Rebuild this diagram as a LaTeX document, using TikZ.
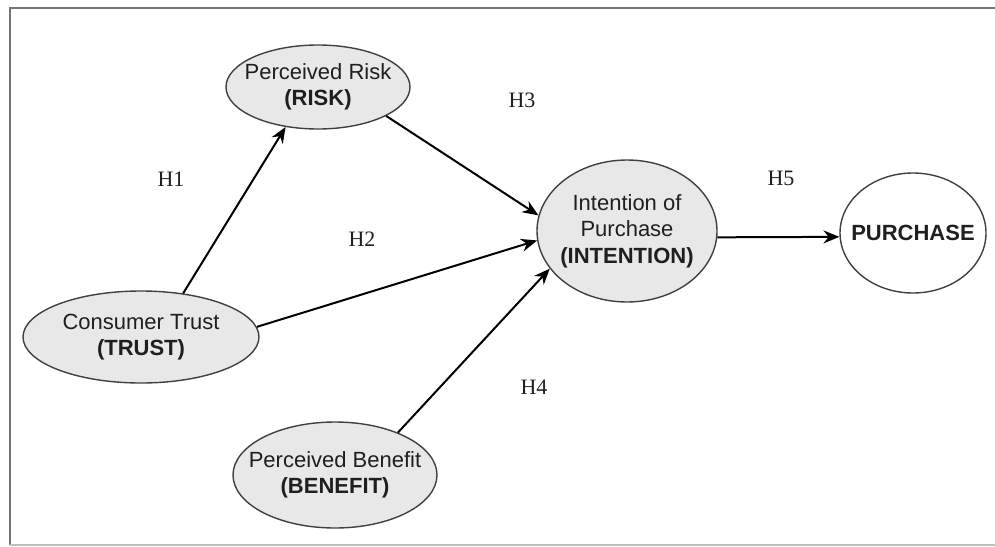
\documentclass[tikz,border=0pt]{standalone}
\usepackage{fontspec}
\setmainfont{Liberation Serif}
\setsansfont{Liberation Sans}
\usetikzlibrary{arrows.meta,shapes.geometric}

\begin{document}
\begin{tikzpicture}[x=1pt,y=-1pt,->,>={Stealth[length=16pt,width=13pt]},line width=2pt,
  construct/.style={ellipse,draw=black!75,line width=1.4pt,fill=black!9,inner sep=-40pt,
    align=center,font=\sffamily\fontsize{22}{26.5}\selectfont,text=black!88},
  hyp/.style={font=\fontsize{22}{24}\selectfont,text=black!88}]
  \useasboundingbox (0,0) rectangle (995,546);
  \draw[-,black!55,line width=2.5pt] (995,8) -- (10,8) -- (10,545);
  \draw[-,black!25,line width=2pt] (10,545) -- (995,545);

  \node[construct,minimum width=184,minimum height=84] (risk) at (318,87) {Perceived Risk\\\textbf{(RISK)}};
  \node[construct,minimum width=236,minimum height=92] (trust) at (141,337) {Consumer Trust\\\textbf{(TRUST)}};
  \node[construct,minimum width=204,minimum height=106] (benefit) at (335,475) {Perceived Benefit\\\textbf{(BENEFIT)}};
  \node[construct,minimum width=180,minimum height=142] (intention) at (627,231) {Intention of\\Purchase\\\textbf{(INTENTION)}};
  \node[construct,fill=white,minimum width=146,minimum height=120] (purchase) at (913,233) {\textbf{PURCHASE}};

  \node[hyp] (h1) at (171,179) {H1};
  \node[hyp] (h2) at (362,239) {H2};
  \node[hyp] (h3) at (522,100) {H3};
  \node[hyp] (h4) at (534,387) {H4};
  \node[hyp] (h5) at (781,178) {H5};

  \draw (trust.46) -- (risk.-129);
  \draw (risk.-23) -- (intention.170);
  \draw (trust.5) -- (intention.186);
  \draw (benefit.34) -- (intention.206);
  \draw (intention.-4) -- (purchase.183);

\end{tikzpicture}
\end{document}
